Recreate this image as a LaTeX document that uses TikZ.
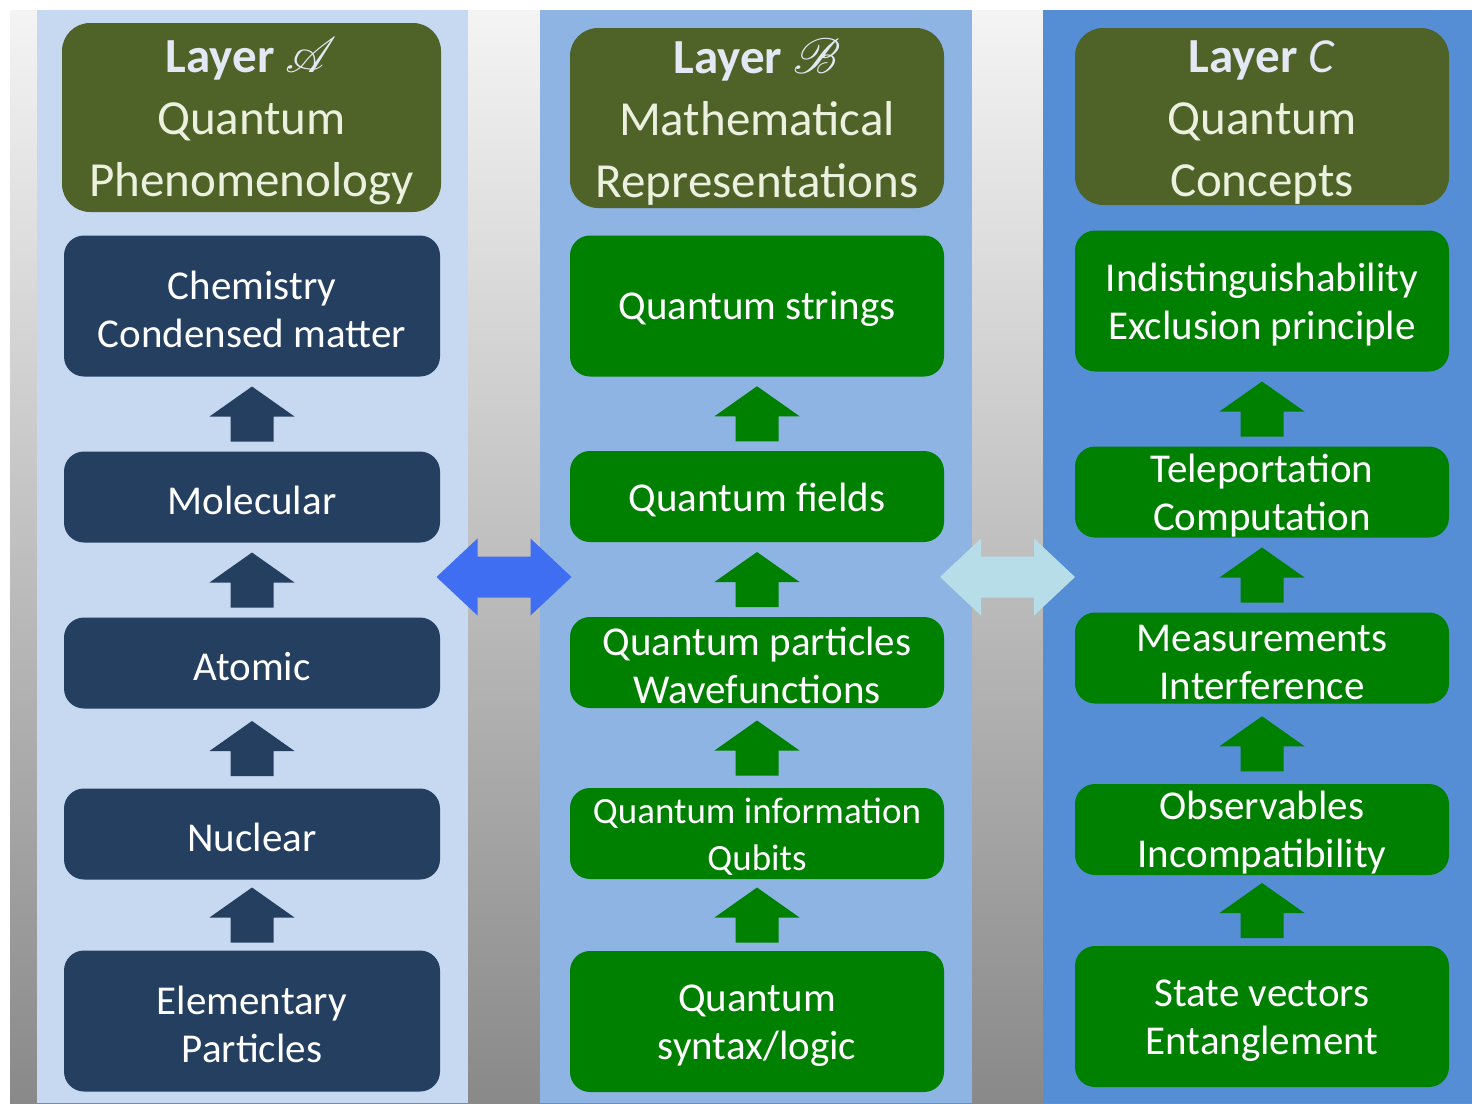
\documentclass[tikz,border=0pt]{standalone}
\usepackage{fontspec}
\setmainfont{Carlito}
\usepackage{mathrsfs}
\usetikzlibrary{calc}
\definecolor{bgtop}{HTML}{F4F4F4}
\definecolor{bgbot}{HTML}{898989}
\definecolor{paneA}{HTML}{C6D9F1}
\definecolor{paneB}{HTML}{8EB4E3}
\definecolor{paneC}{HTML}{558ED5}
\definecolor{olivehead}{HTML}{4F6228}
\definecolor{navy}{HTML}{243F60}
\definecolor{qgreen}{HTML}{008000}
\definecolor{cream}{HTML}{EBF1DE}
\definecolor{lavtxt}{HTML}{E4E8F4}
\definecolor{linkblue}{HTML}{3F6EF3}
\definecolor{linkpale}{HTML}{B7DEE8}
\newcommand{\lineup}{\rule{0pt}{0.85em}}
\newcommand{\headup}{\rule{0pt}{0.88em}}
\pgfdeclarelayer{panellayer}
\pgfdeclarelayer{nodelayer}
\pgfsetlayers{panellayer,main,nodelayer}
\tikzstyle{panel}=[rectangle,inner sep=0pt,minimum height=546.5pt]
\tikzstyle{layerhead}=[rectangle,rounded corners=14pt,fill=olivehead,text=cream,align=center,inner sep=0pt,font=\fontsize{24.5}{31}\selectfont]
\tikzstyle{box}=[rectangle,rounded corners=10pt,text=white,align=center,inner sep=0pt,minimum width=187pt,font=\fontsize{20.5}{24}\selectfont]
\tikzstyle{phys}=[box,fill=navy,minimum width=188pt]
\tikzstyle{repr}=[box,fill=qgreen]
\tikzstyle{short}=[minimum height=45.5pt]
\tikzstyle{tall}=[minimum height=70.5pt]
% block arrow pointing up, between two boxes
\newcommand{\lift}[3]{%
  \fill[#3] ($(#1.north)!0.5!(#2.south)$) ++(-10.75pt,-13.75pt) -- ++(21.5pt,0) -- ++(0,12.5pt)
    -- ++(10.5pt,0) -- ++(-21.25pt,15pt) -- ++(-21.25pt,-15pt) -- ++(10.5pt,0) -- cycle;}
% double block arrow between two layers
\newcommand{\link}[3]{%
  \fill[#3] ($(#1.east)!0.5!(#2.west)$) ++(-33.75pt,-10.25pt) -- ++(20.5pt,19.25pt) -- ++(0,-9pt)
    -- ++(26.5pt,0) -- ++(0,9pt) -- ++(20.5pt,-19.25pt) -- ++(-20.5pt,-19.25pt) -- ++(0,9pt)
    -- ++(-26.5pt,0) -- ++(0,-9pt) -- cycle;}

\begin{document}
\begin{tikzpicture}[x=0.5pt,y=-0.5pt]
	\useasboundingbox (0,0) rectangle (1472,1103);
	\begin{pgfonlayer}{panellayer}
		\shade [top color=bgtop, bottom color=bgbot] (10,10) rectangle (1472,1103);
		\node [style=panel, fill=paneA, minimum width=215.5pt] (pA) at (252.5,556.5) {};
		\node [style=panel, fill=paneB, minimum width=216pt] (pB) at (756,556.5) {};
		\node [style=panel, fill=paneC, minimum width=214.5pt] (pC) at (1257.5,556.5) {};
	\end{pgfonlayer}
	\begin{pgfonlayer}{nodelayer}
		% Layer A
		\node [style=layerhead, minimum width=189.5pt, minimum height=94.5pt] (hA) at (251.5,117.5) {\headup{\bfseries\color{lavtxt}Layer $\mathscr{A}$}\\Quantum\\Phenomenology};
		\node [style=phys, tall] (chem) at (252,306) {\lineup Chemistry\\Condensed matter};
		\node [style=phys, short] (mol) at (252,497) {\lineup Molecular};
		\node [style=phys, short] (atom) at (252,663) {\lineup Atomic};
		\node [style=phys, short] (nuc) at (252,834) {\lineup Nuclear};
		\node [style=phys, tall] (elem) at (252,1021) {\lineup Elementary\\Particles};
		% Layer B
		\node [style=layerhead, minimum width=187pt, minimum height=90pt] (hB) at (757,118) {\headup{\bfseries\color{lavtxt}Layer $\mathscr{B}$}\\Mathematical\\Representations};
		\node [style=repr, tall] (strings) at (757,306) {\lineup Quantum strings};
		\node [style=repr, short] (fields) at (757,496.5) {\lineup Quantum fields};
		\node [style=repr, short] (parts) at (757,662.5) {\lineup Quantum particles\\Wavefunctions};
		\node [style=repr, short, font=\fontsize{18.5}{23.5}\selectfont] (qinfo) at (757,833.5) {\lineup Quantum information\\Qubits};
		\node [style=repr, tall] (syntax) at (757,1021.5) {\lineup Quantum\\syntax/logic};
		% Layer C
		\node [style=layerhead, minimum width=187pt, minimum height=88.5pt] (hC) at (1262,116.5) {\headup{\color{lavtxt}\textbf{Layer} \textit{C}}\\Quantum\\Concepts};
		\node [style=repr, tall] (indist) at (1262,301) {\lineup Indistinguishability\\Exclusion principle};
		\node [style=repr, short] (tele) at (1262,492) {\lineup Teleportation\\Computation};
		\node [style=repr, short] (meas) at (1262,658) {\lineup Measurements\\Interference};
		\node [style=repr, short] (obs) at (1262,829.5) {\lineup Observables\\Incompatibility};
		\node [style=repr, tall] (state) at (1262,1016.5) {\lineup State vectors\\Entanglement};
	\end{pgfonlayer}
	\lift{mol}{chem}{navy}
	\lift{atom}{mol}{navy}
	\lift{nuc}{atom}{navy}
	\lift{elem}{nuc}{navy}
	\lift{fields}{strings}{qgreen}
	\lift{parts}{fields}{qgreen}
	\lift{qinfo}{parts}{qgreen}
	\lift{syntax}{qinfo}{qgreen}
	\lift{tele}{indist}{qgreen}
	\lift{meas}{tele}{qgreen}
	\lift{obs}{meas}{qgreen}
	\lift{state}{obs}{qgreen}
	\link{pA}{pB}{linkblue}
	\link{pB}{pC}{linkpale}
\end{tikzpicture}
\end{document}
